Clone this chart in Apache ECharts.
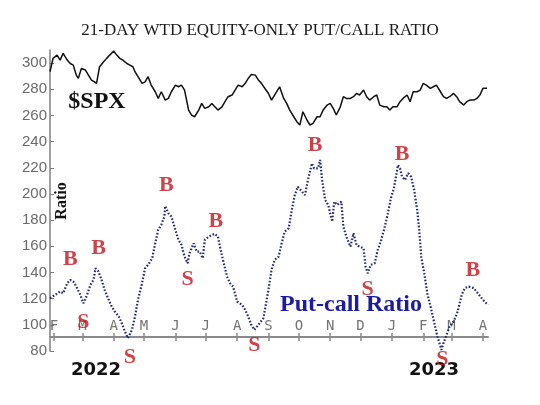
<!DOCTYPE html>
<html>
<head>
<meta charset="utf-8">
<script src="https://cdn.jsdelivr.net/npm/echarts@6/dist/echarts.min.js"></script>
<style>html,body{margin:0;padding:0;background:#fff}#c{width:540px;height:405px}</style>
</head>
<body>
<div id="c"></div>
<script>
// ---- DATA ----
const spx = [
  ['2022-01-28',293.4],['2022-01-31',303.6],
  ['2022-02-04',306.1],['2022-02-07',302.3],['2022-02-10',307.4],['2022-02-14',302.3],['2022-02-17',299.7],['2022-02-20',298.5],['2022-02-23',290.8],['2022-02-25',288.3],['2022-02-28',295.9],
  ['2022-03-04',294.7],['2022-03-07',290.8],['2022-03-10',287.0],['2022-03-13',285.7],['2022-03-15',284.5],['2022-03-18',297.2],['2022-03-22',301.0],['2022-03-25',303.6],['2022-03-28',306.1],
  ['2022-04-01',309.2],['2022-04-04',306.1],['2022-04-07',303.6],['2022-04-10',302.3],['2022-04-14',299.7],['2022-04-17',298.5],['2022-04-20',297.2],['2022-04-22',293.4],['2022-04-25',289.6],['2022-04-29',284.5],
  ['2022-05-02',285.7],['2022-05-05',289.6],['2022-05-08',283.2],['2022-05-12',278.1],['2022-05-15',273.0],['2022-05-18',278.1],['2022-05-22',271.7],['2022-05-25',273.0],['2022-05-28',278.1],
  ['2022-06-01',283.2],['2022-06-04',281.9],['2022-06-07',283.2],['2022-06-10',279.4],['2022-06-14',264.1],['2022-06-17',260.3],['2022-06-20',259.0],['2022-06-24',264.1],['2022-06-27',269.2],['2022-06-30',265.4],
  ['2022-07-04',266.6],['2022-07-07',269.2],['2022-07-10',266.6],['2022-07-13',264.1],['2022-07-17',266.6],['2022-07-20',270.5],['2022-07-23',274.3],['2022-07-27',275.6],['2022-07-30',279.4],
  ['2022-08-02',283.2],['2022-08-06',281.9],['2022-08-09',284.5],['2022-08-12',288.3],['2022-08-15',291.3],['2022-08-19',290.8],['2022-08-22',287.0],['2022-08-25',284.5],['2022-08-29',280.0],
  ['2022-09-01',276.8],['2022-09-04',271.7],['2022-09-07',275.6],['2022-09-12',281.9],['2022-09-16',273.0],['2022-09-19',269.2],['2022-09-22',264.1],['2022-09-26',259.0],['2022-09-29',255.2],
  ['2022-10-02',252.7],['2022-10-05',262.8],['2022-10-09',256.5],['2022-10-12',252.7],['2022-10-15',253.9],['2022-10-19',259.0],['2022-10-22',259.0],['2022-10-25',264.1],['2022-10-29',267.9],
  ['2022-11-01',269.2],['2022-11-04',265.4],['2022-11-07',260.3],['2022-11-11',266.6],['2022-11-14',274.3],['2022-11-17',273.0],['2022-11-21',273.0],['2022-11-24',274.3],['2022-11-27',276.8],['2022-11-30',275.6],
  ['2022-12-04',279.4],['2022-12-07',274.3],['2022-12-10',271.7],['2022-12-14',274.3],['2022-12-17',275.6],['2022-12-20',267.9],['2022-12-24',266.6],['2022-12-27',266.6],['2022-12-30',264.1],
  ['2023-01-02',266.6],['2023-01-06',266.6],['2023-01-09',270.5],['2023-01-12',273.0],['2023-01-16',275.6],['2023-01-19',270.5],['2023-01-22',278.1],['2023-01-26',278.1],['2023-01-29',279.4],
  ['2023-02-01',284.5],['2023-02-04',283.2],['2023-02-08',280.7],['2023-02-11',281.9],['2023-02-14',283.2],['2023-02-18',278.1],['2023-02-21',274.3],['2023-02-24',273.0],['2023-02-27',274.3],
  ['2023-03-03',276.8],['2023-03-06',274.3],['2023-03-09',270.5],['2023-03-13',267.9],['2023-03-16',270.5],['2023-03-19',271.7],['2023-03-23',271.7],['2023-03-26',273.0],['2023-03-29',275.6],
  ['2023-04-01',280.7],['2023-04-05',280.7]
];

const putCall = [
  ['2022-01-28',120.3],['2022-02-02',122.9],['2022-02-07',125.4],['2022-02-10',124.1],['2022-02-14',131.8],['2022-02-17',134.3],['2022-02-20',133.1],['2022-02-23',129.2],['2022-02-27',122.9],
  ['2022-03-02',116.5],['2022-03-05',121.6],['2022-03-09',130.5],['2022-03-12',134.3],['2022-03-14',143.2],['2022-03-17',140.7],['2022-03-20',134.3],['2022-03-23',126.7],['2022-03-27',119.1],['2022-03-30',114.0],
  ['2022-04-02',110.2],['2022-04-06',106.3],['2022-04-09',101.2],['2022-04-12',94.9],['2022-04-15',89.8],['2022-04-19',96.2],['2022-04-22',106.3],['2022-04-25',119.1],['2022-04-29',131.8],
  ['2022-05-02',143.2],['2022-05-05',145.8],['2022-05-09',150.9],['2022-05-12',162.3],['2022-05-15',172.5],['2022-05-18',176.3],['2022-05-21',182.7],['2022-05-22',190.8],['2022-05-25',185.2],['2022-05-28',182.7],
  ['2022-06-01',172.5],['2022-06-04',164.9],['2022-06-07',161.1],['2022-06-10',152.2],['2022-06-13',147.1],['2022-06-15',154.7],['2022-06-19',162.3],['2022-06-22',156.0],['2022-06-25',156.0],['2022-06-28',150.9],['2022-06-30',164.9],
  ['2022-07-04',167.4],['2022-07-07',168.7],['2022-07-10',169.5],['2022-07-13',167.4],['2022-07-15',159.8],['2022-07-18',149.6],['2022-07-22',136.9],['2022-07-25',131.8],['2022-07-28',129.2],
  ['2022-08-01',117.8],['2022-08-06',115.2],['2022-08-09',111.4],['2022-08-12',106.3],['2022-08-15',100.0],['2022-08-18',96.2],['2022-08-22',100.0],['2022-08-27',105.1],['2022-08-29',113.9],
  ['2022-09-01',127.0],['2022-09-04',141.9],['2022-09-07',149.6],['2022-09-11',152.1],['2022-09-14',162.3],['2022-09-17',171.2],['2022-09-21',173.8],['2022-09-24',187.8],['2022-09-27',199.2],['2022-09-30',205.6],
  ['2022-10-04',201.8],['2022-10-07',199.2],['2022-10-10',210.7],['2022-10-14',223.4],['2022-10-16',219.6],['2022-10-20',219.6],['2022-10-22',226.0],['2022-10-24',210.7],['2022-10-27',195.4],['2022-10-30',191.6],
  ['2022-11-03',178.9],['2022-11-05',194.1],['2022-11-08',191.6],['2022-11-12',194.1],['2022-11-14',175.1],['2022-11-17',167.4],['2022-11-21',159.8],['2022-11-24',169.9],['2022-11-27',161.1],['2022-11-30',159.8],
  ['2022-12-04',158.5],['2022-12-06',144.5],['2022-12-08',139.4],['2022-12-11',145.8],['2022-12-15',147.1],['2022-12-18',157.2],['2022-12-21',163.6],['2022-12-25',175.1],['2022-12-28',185.2],['2022-12-31',196.7],
  ['2023-01-03',204.3],['2023-01-07',222.1],['2023-01-09',219.6],['2023-01-11',213.2],['2023-01-14',210.7],['2023-01-17',215.8],['2023-01-20',213.2],['2023-01-23',203.0],['2023-01-26',187.8],['2023-01-28',172.5],['2023-01-30',152.1],
  ['2023-02-02',139.4],['2023-02-05',124.1],['2023-02-09',111.4],['2023-02-12',101.2],['2023-02-15',91.1],['2023-02-19',80.9],['2023-02-21',86.0],['2023-02-24',92.3],['2023-02-27',98.7],
  ['2023-03-03',102.5],['2023-03-07',110.1],['2023-03-11',122.9],['2023-03-14',128.0],['2023-03-18',129.2],['2023-03-23',128.0],['2023-03-27',124.1],
  ['2023-04-01',119.1],['2023-04-06',115.2]
];

// Buy / Sell signal annotations: [date, value, letter]
const signals = [
  ['2022-02-17',150.4,'B'],['2022-03-17',158.4,'B'],['2022-03-02',102.3,'S'],['2022-04-17',74.8,'S'],
  ['2022-05-23',206.5,'B'],['2022-06-13',134.4,'S'],['2022-07-11',179.4,'B'],['2022-08-18',84.0,'S'],
  ['2022-10-17',237.0,'B'],['2022-12-08',127.5,'S'],['2023-01-11',230.5,'B'],['2023-02-20',73.3,'S'],
  ['2023-03-22',142.0,'B']
];

const monthTicks = ['2022-02-01','2022-03-01','2022-04-01','2022-05-01','2022-06-01','2022-07-01','2022-08-01','2022-09-01','2022-10-01','2022-11-01','2022-12-01','2023-01-01','2023-02-01','2023-03-01','2023-04-01'];
const monthLabels = ['F','M','A','M','J','J','A','S','O','N','D','J','F','M','A'];
const yTicks = [80,100,120,140,160,180,200,220,240,260,280,300];
const xStart = '2022-01-28', xEnd = '2023-04-06';

// ---- helpers ----
function ts(s){const p=s.split('-').map(Number);return Date.UTC(p[0],p[1]-1,p[2]);}
const monthTs = monthTicks.map(ts);

const chart = echarts.init(document.getElementById('c'), null, {renderer:'canvas'});
const xCommon = {
  type:'value', min: ts(xStart), max: ts(xEnd), offset: -14,
  splitLine:{show:false}, position:'bottom'
};
const center = {align:'center', verticalAlign:'middle', textAlign:'center', textVerticalAlign:'middle'};
chart.setOption({
  animation:false,
  backgroundColor:'#fff',
  grid:{left:50, right:52, top:50, bottom:54, containLabel:false},
  xAxis:[
    Object.assign({}, xCommon, {
      axisLine:{show:true, onZero:false, lineStyle:{color:'#8a8a8a', width:2}},
      axisTick:{show:true, inside:true, length:4, customValues: monthTs, lineStyle:{color:'#8a8a8a', width:1.5}},
      axisLabel:{show:true, inside:true, customValues: monthTs, margin:4, color:'#737373', fontSize:14, fontFamily:'DejaVu Sans Mono',
        formatter: v => { const i = monthTs.indexOf(v); return i>=0 ? monthLabels[i] : ''; }}
    }),
    Object.assign({}, xCommon, {
      axisLine:{show:false, onZero:false},
      axisTick:{show:true, inside:false, length:4, customValues: monthTs, lineStyle:{color:'#8a8a8a', width:1.5}},
      axisLabel:{show:false}
    })
  ],
  yAxis:{
    type:'value', min:80, max:310,
    splitLine:{show:false},
    axisLine:{show:true, onZero:false, lineStyle:{color:'#808080', width:1.5}},
    axisTick:{show:true, inside:true, length:4, customValues:yTicks, lineStyle:{color:'#808080'}},
    axisLabel:{show:true, customValues:yTicks, margin:3, color:'#6a6a6a', fontSize:15, fontFamily:'Liberation Sans'}
  },
  series:[
    {type:'line', name:'$SPX', data: spx.map(d=>[ts(d[0]), d[1]]), showSymbol:false, symbol:'none',
      lineStyle:{color:'#111', width:1.5}, z:3},
    {type:'line', name:'Put-call Ratio', data: putCall.map(d=>[ts(d[0]), d[1]]), showSymbol:false, symbol:'none', clip:false,
      lineStyle:{color:'#222a70', width:2.2, type:[1.6,1.8]}, z:3},
    {type:'scatter', name:'signals', data: signals.map(d=>({value:[ts(d[0]), d[1]], name:d[2]})), clip:false,
      symbol:'circle', symbolSize:1, itemStyle:{color:'rgba(0,0,0,0)'}, z:5,
      label:{show:true, position:'inside', formatter: p => p.name, color:'#c0141c', fontSize:22, fontWeight:'bold', fontFamily:'Liberation Serif'}}
  ],
  graphic:[
    {type:'text', x:260, y:31, style:Object.assign({text:'21-DAY WTD EQUITY-ONLY PUT/CALL RATIO', fill:'#1a1a1a', font:'17px "Liberation Serif"'}, center)},
    {type:'text', x:97, y:102, style:Object.assign({text:'$SPX', fill:'#111', font:'bold 24px "Liberation Serif"'}, center)},
    {type:'text', x:62, y:201, rotation:Math.PI/2, style:Object.assign({text:'Ratio', fill:'#111', font:'bold 16px "Liberation Serif"'}, center)},
    {type:'text', x:351, y:305, z:10, style:Object.assign({text:'Put-call Ratio', fill:'#1c1ca0', font:'bold 24px "Liberation Serif"'}, center)},
    {type:'text', x:96, y:370, style:Object.assign({text:'2022', fill:'#111', font:'bold 18px "DejaVu Sans"'}, center)},
    {type:'text', x:434, y:370, style:Object.assign({text:'2023', fill:'#111', font:'bold 18px "DejaVu Sans"'}, center)}
  ]
});
</script>
</body>
</html>
